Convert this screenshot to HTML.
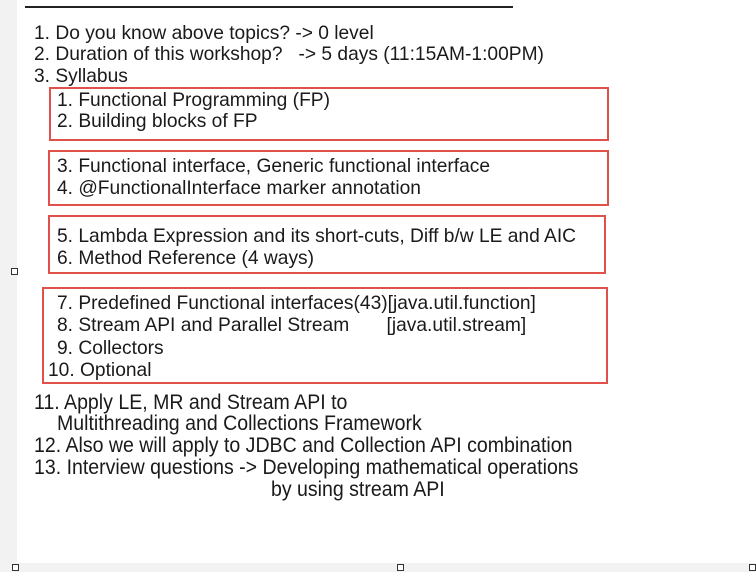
<!DOCTYPE html>
<html><head><style>
body{margin:0;width:756px;height:572px;background:#fff;position:relative;overflow:hidden;font-family:"Liberation Sans",Arial,sans-serif;color:#1a1a1a}
.t{position:absolute;white-space:pre;font-size:19.2px;line-height:22px}
.c{font-size:21px;transform-origin:0 0;transform:scaleX(0.93)}
.b{position:absolute;border:2px solid #e0514b;box-sizing:border-box}
.h{position:absolute;width:5px;height:5px;border:1px solid #333;background:#fff}
</style></head><body>
<div style="position:absolute;left:0;top:0;width:17px;height:572px;background:#f2f2f2"></div>
<div style="position:absolute;left:0;top:563px;width:756px;height:9px;background:#f2f2f2"></div>
<div style="position:absolute;left:25px;top:6px;width:488px;height:2px;background:#222"></div>
<div class="t" style="left:34px;top:23px">1. Do you know above topics? -&gt; 0 level</div>
<div class="t" style="left:34px;top:44px">2. Duration of this workshop?   -&gt; 5 days (11:15AM-1:00PM)</div>
<div class="t" style="left:34px;top:66px">3. Syllabus</div>
<div class="b" style="left:49px;top:87px;width:560px;height:54px"></div>
<div class="t" style="left:57px;top:90px">1. Functional Programming (FP)</div>
<div class="t" style="left:57px;top:111px">2. Building blocks of FP</div>
<div class="b" style="left:48px;top:150px;width:561px;height:56px"></div>
<div class="t" style="left:57px;top:156px">3. Functional interface, Generic functional interface</div>
<div class="t" style="left:57px;top:178px">4. @FunctionalInterface marker annotation</div>
<div class="b" style="left:48px;top:215px;width:558px;height:59px"></div>
<div class="t" style="left:57px;top:226px">5. Lambda Expression and its short-cuts, Diff b/w LE and AIC</div>
<div class="t" style="left:57px;top:248px">6. Method Reference (4 ways)</div>
<div class="b" style="left:42px;top:287px;width:566px;height:97px"></div>
<div class="t" style="left:57px;top:293px">7. Predefined Functional interfaces(43)[java.util.function]</div>
<div class="t" style="left:57px;top:315px">8. Stream API and Parallel Stream       [java.util.stream]</div>
<div class="t" style="left:57px;top:338px">9. Collectors</div>
<div class="t" style="left:48px;top:360px">10. Optional</div>
<div class="t c" style="left:34px;top:392px">11. Apply LE, MR and Stream API to</div>
<div class="t c" style="left:57px;top:413px">Multithreading and Collections Framework</div>
<div class="t c" style="left:34px;top:435px">12. Also we will apply to JDBC and Collection API combination</div>
<div class="t c" style="left:34px;top:457px">13. Interview questions -&gt; Developing mathematical operations</div>
<div class="t c" style="left:271px;top:479px">by using stream API</div>
<div class="h" style="left:11px;top:268px"></div>
<div class="h" style="left:12px;top:564px"></div>
<div class="h" style="left:397px;top:564px"></div>
<div class="h" style="left:749px;top:564px"></div>
</body></html>
